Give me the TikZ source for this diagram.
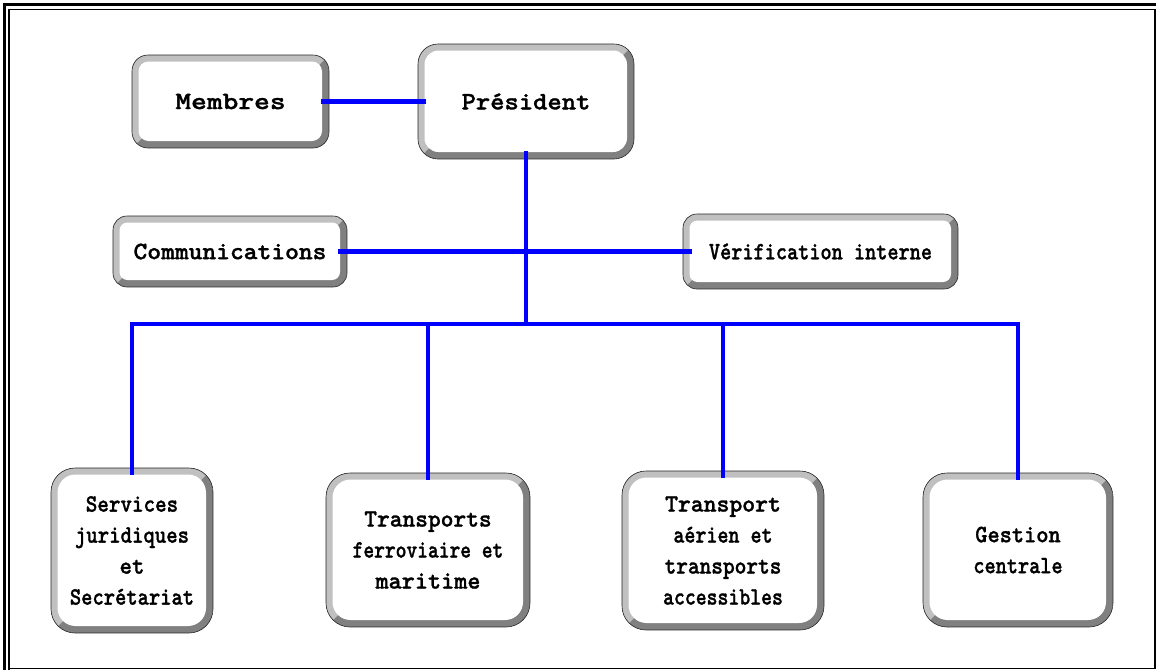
\documentclass[tikz,border=0pt]{standalone}
\usepackage{fontspec}
\usepackage{graphicx}
\newfontfamily\tyfont{lmmonolt10-bold.otf}[FakeBold=1.2]
\definecolor{bevlight}{HTML}{C0C0C0}
\definecolor{bevdark}{HTML}{808080}
\definecolor{connblue}{HTML}{0000FF}
\newcommand{\hs}[2]{\scalebox{#1}[1]{#2}}
\tikzset{
  bev/.style={draw=black!85, line width=0.6pt, rounded corners=#1, inner sep=0pt,
    align=center, font=\tyfont\fontsize{25}{31}\selectfont,
    path picture={
      \fill[bevdark, sharp corners] (path picture bounding box.south west) rectangle (path picture bounding box.north east);
      \fill[bevlight, sharp corners] (path picture bounding box.south west) -- (path picture bounding box.north west)
        -- (path picture bounding box.north east) -- ([shift={(-40pt,-40pt)}]path picture bounding box.north east)
        -- ([shift={(40pt,40pt)}]path picture bounding box.south west) -- cycle;
      \fill[white, rounded corners=#1-6pt] ([shift={(6.5pt,7pt)}]path picture bounding box.south west)
        rectangle ([shift={(-7pt,-6.5pt)}]path picture bounding box.north east);
    }},
  conn/.style={draw=connblue, line width=4.2pt, line join=miter}
}
\begin{document}
\begin{tikzpicture}[x=1pt,y=-1pt]
\useasboundingbox (0,0) rectangle (1156,670);
\fill[white] (0,0) rectangle (1156,670);
% frame
\draw[line width=3pt] (4.5,670) -- (4.5,4.5) -- (1156,4.5);
\draw[line width=1.8pt] (9,670) -- (9,9.5) -- (1156,9.5);
\draw[line width=1.5pt] (1155,9.5) -- (1155,668.5) -- (9,668.5);
% boxes
\node[bev=16pt, minimum width=197pt, minimum height=93pt] (mem) at (230.5,101.5) {\hs{1.2}{Membres}};
\node[bev=20pt, minimum width=216pt, minimum height=115pt] (pres) at (526,101.5) {\hs{1.09}{Président}};
\node[bev=14pt, minimum width=234pt, minimum height=71pt] (com) at (230,251.5) {\hs{1.05}{Communications}};
\node[bev=14pt, minimum width=275pt, minimum height=75pt] (ver) at (820.5,251.5) {\hs{0.85}{Vérification interne}};
\node[bev=24pt, minimum width=162pt, minimum height=165pt] (srv) at (132,550.5)
  {\hs{0.88}{Services}\\\hs{0.87}{juridiques}\\\hs{0.95}{et}\\\hs{0.86}{Secrétariat}};
\node[bev=24pt, minimum width=204pt, minimum height=154pt] (fer) at (428,550)
  {\hs{0.97}{Transports}\\\hs{0.82}{ferroviaire et}\\\hs{1.0}{maritime}};
\node[bev=24pt, minimum width=202pt, minimum height=159pt] (air) at (723,550.5)
  {\hs{0.98}{Transport}\\\hs{0.84}{aérien et}\\\hs{0.89}{transports}\\\hs{0.83}{accessibles}};
\node[bev=24pt, minimum width=190pt, minimum height=154pt] (ges) at (1018,550)
  {\hs{0.93}{Gestion}\\\hs{0.85}{centrale}};
% connectors
\coordinate (bus) at (526,324);
\draw[conn] ([xshift=-8pt]mem.east) -- ([xshift=8pt]pres.west);
\draw[conn] ([xshift=-9pt]com.east) -- ([xshift=9pt]ver.west);
\draw[conn] ([yshift=8pt]pres.south) -- (pres.south |- bus);
\draw[conn] ([yshift=-7pt]srv.north) -- (srv.north |- bus) -- (ges.north |- bus) -- ([yshift=-7pt]ges.north);
\draw[conn] (fer.north |- bus) -- ([yshift=-7pt]fer.north);
\draw[conn] (air.north |- bus) -- ([yshift=-7pt]air.north);
\end{tikzpicture}
\end{document}
